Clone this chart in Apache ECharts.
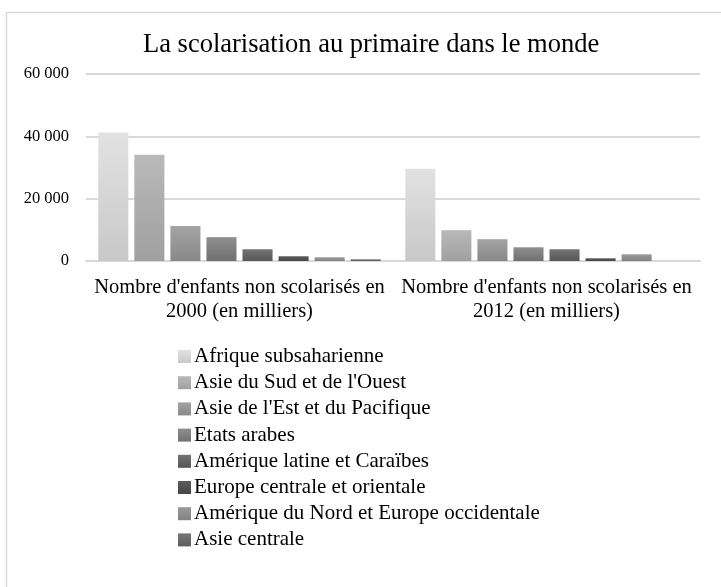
<!DOCTYPE html>
<html>
<head>
<meta charset="utf-8">
<script src="https://cdn.jsdelivr.net/npm/echarts@6/dist/echarts.min.js"></script>
<style>
	html, body { margin: 0; padding: 0; background: #fff; }
	#chart { width: 721px; height: 587px; }
</style>
</head>
<body>
<div id="chart"></div>
<script>
// categories (x axis)
var categories = [
	"Nombre d'enfants non scolarisés en\n2000 (en milliers)",
	"Nombre d'enfants non scolarisés en\n2012 (en milliers)"
];
// regions = series
var regions = [
	'Afrique subsaharienne',
	"Asie du Sud et de l'Ouest",
	"Asie de l'Est et du Pacifique",
	'Etats arabes',
	'Amérique latine et Caraïbes',
	'Europe centrale et orientale',
	'Amérique du Nord et Europe occidentale',
	'Asie centrale'
];
// values in thousands
var values2000 = [41200, 34100, 11200, 7650, 3770, 1520, 1200, 550];
var values2012 = [29600, 9900, 7000, 4400, 3770, 870, 2150, 0];
var yTicks = [0, 20000, 40000, 60000];

// gray gradients per region [top, bottom]
var shades = [
	['#e2e2e2', '#c8c8c8'],
	['#b9b9b9', '#a0a0a0'],
	['#a4a4a4', '#888888'],
	['#8f8f8f', '#707070'],
	['#737373', '#575757'],
	['#5b5b5b', '#464646'],
	['#9b9b9b', '#828282'],
	['#787878', '#5c5c5c']
];

var chart = echarts.init(document.getElementById('chart'));
var serif = '"Liberation Serif", "DejaVu Serif", serif';

var series = [];
for (var i = 0; i < regions.length; i++) {
	series.push({
		name: regions[i],
		type: 'bar',
		barGap: '20%',
		barCategoryGap: '8%',
		data: [values2000[i], values2012[i]],
		itemStyle: {
			color: new echarts.graphic.LinearGradient(0, 0, 0, 1, [
				{ offset: 0, color: shades[i][0] },
				{ offset: 1, color: shades[i][1] }
			])
		}
	});
}

var option = {
	animation: false,
	backgroundColor: '#fff',
	graphic: [{
		type: 'rect',
		shape: { x: 6.5, y: 12.5, width: 740, height: 600 },
		style: { fill: 'none', stroke: '#d9d9d9', lineWidth: 1.5 },
		silent: true
	}],
	title: {
		text: 'La scolarisation au primaire dans le monde',
		left: 138,
		top: 27,
		textStyle: {
			fontFamily: serif,
			fontWeight: 'normal',
			fontSize: 26.5,
			color: '#000'
		}
	},
	legend: {
		orient: 'vertical',
		left: 173,
		top: 341,
		itemWidth: 13,
		itemHeight: 13,
		itemGap: 5.2,
		icon: 'rect',
		data: regions,
		textStyle: {
			fontFamily: serif,
			fontSize: 21,
			color: '#000',
			padding: [0, 0, 0, -2]
		}
	},
	grid: {
		left: 86,
		right: 21,
		top: 74,
		bottom: 326,
		containLabel: false
	},
	xAxis: {
		type: 'category',
		data: categories,
		axisLine: { lineStyle: { color: '#d9d9d9', width: 2 } },
		axisTick: { show: false },
		axisLabel: {
			fontFamily: serif,
			fontSize: 20.5,
			color: '#000',
			lineHeight: 24,
			margin: 15,
			interval: 0
		}
	},
	yAxis: {
		type: 'value',
		min: yTicks[0],
		max: yTicks[yTicks.length - 1],
		interval: yTicks[1] - yTicks[0],
		axisLine: { show: false },
		axisTick: { show: false },
		splitLine: { lineStyle: { color: '#d9d9d9', width: 2 } },
		axisLabel: {
			fontFamily: serif,
			fontSize: 16.5,
			color: '#000',
			margin: 17,
			formatter: function (v) {
				return String(v).replace(/\B(?=(\d{3})+(?!\d))/g, ' ');
			}
		}
	},
	series: series
};

chart.setOption(option);
window.onresize = function () {
	chart.resize();
};
</script>
</body>
</html>
